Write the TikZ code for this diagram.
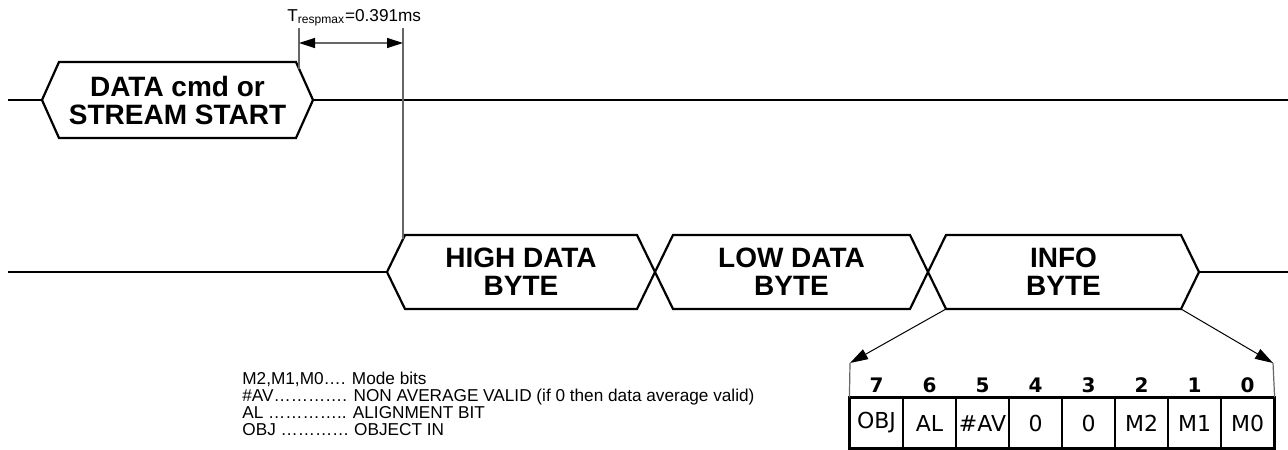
\documentclass[tikz,border=0pt]{standalone}
\usepackage{fontspec}
\setmainfont{Liberation Sans}
\newfontfamily\bitfont{DejaVu Sans}
\usetikzlibrary{arrows.meta}
\tikzstyle{wire}=[line width=1.1pt,line join=miter]
\tikzstyle{guide}=[line width=0.6pt,gray!80!black]
\tikzstyle{buslabel}=[align=center,inner sep=0pt,font=\fontsize{14}{14}\selectfont\bfseries]
\tikzstyle{note}=[anchor=base west,inner sep=0pt,font=\fontsize{8.6}{9}\selectfont]
\tikzstyle{bitcell}=[draw,line width=0.6pt,minimum width=26.5pt,minimum height=25pt,inner sep=0pt,font=\bitfont\fontsize{11}{12}\selectfont]
\tikzstyle{bitnum}=[anchor=base,inner sep=0pt,font=\bitfont\bfseries\fontsize{10}{11}\selectfont]

\begin{document}
\begin{tikzpicture}[x=0.5pt,y=-0.5pt]
\useasboundingbox (0, 0) rectangle (1288, 449);
% upper line
\draw[wire] (8, 100) -- (42, 100);
\draw[wire] (42, 100) -- (59, 62) -- (296, 62) -- (313, 100) -- (296, 138) -- (59, 138) -- cycle;
\draw[wire] (313, 100) -- (1288, 100);
\node[buslabel] at (177.5, 100) (cmd) {DATA cmd or\\STREAM START};
% lower line
\draw[wire] (8, 272) -- (387, 272);
\foreach \xl/\xr/\nm/\txt in {387/655/high/HIGH DATA\\BYTE, 655/928/low/LOW DATA\\BYTE, 928/1199/info/INFO\\BYTE} {
  \draw[wire] (\xl, 272) -- ({\xl+18}, 235) -- ({\xr-18}, 235) -- (\xr, 272) -- ({\xr-18}, 309) -- ({\xl+18}, 309) -- cycle;
  \node[buslabel] at ({(\xl+\xr)/2}, 272) (\nm) {\txt};
}
\draw[wire] (1199, 272) -- (1288, 272);
% response time
\coordinate (tstart) at (299, 43);
\coordinate (tend) at (403, 43);
\draw[guide] (299, 28) -- (299, 69);
\draw[guide] (403, 28) -- (403, 239);
\draw[guide,{Triangle[length=8pt,width=5pt,color=black]}-{Triangle[length=8pt,width=5pt,color=black]}] (tstart) -- (tend);
\node[note] at (287, 22) (tresp) {T\textsubscript{respmax}=0.391ms};
% info byte
\foreach \txt/\bit [count=\i from 0] in {OBJ/7, AL/6, \#AV/5, 0/4, 0/3, M2/2, M1/1, M0/0} {
  \node[bitcell] at ({876.5+53*\i}, 423) (cell\i) {\txt};
  \node[bitnum] at ({876.5+53*\i}, 392) (bit\i) {\bit};
}
\draw[line width=1.1pt] (cell0.north west) rectangle (cell7.south east);
\coordinate (lefttip) at (850, 363);
\coordinate (righttip) at (1273, 363);
\coordinate (infoL) at (946, 309);
\coordinate (infoR) at (1181, 309);
\draw[guide] (cell0.north west) -- (lefttip);
\draw[guide] (cell7.north east) -- (righttip);
\draw[-{Triangle[length=9pt,width=5.5pt]},line width=0.5pt] (infoL) -- (lefttip);
\draw[-{Triangle[length=9pt,width=5.5pt]},line width=0.5pt] (infoR) -- (righttip);
% legend
\node[note] at (242, 384) (modebits) {M2,M1,M0…. Mode bits};
\node[note] at (242, 401) (avbit) {\#AV…………. NON AVERAGE VALID (if 0 then data average valid)};
\node[note] at (242, 418) (albit) {AL ………….. ALIGNMENT BIT};
\node[note] at (242, 435) (objbit) {OBJ ………… OBJECT IN};
\end{tikzpicture}
\end{document}
